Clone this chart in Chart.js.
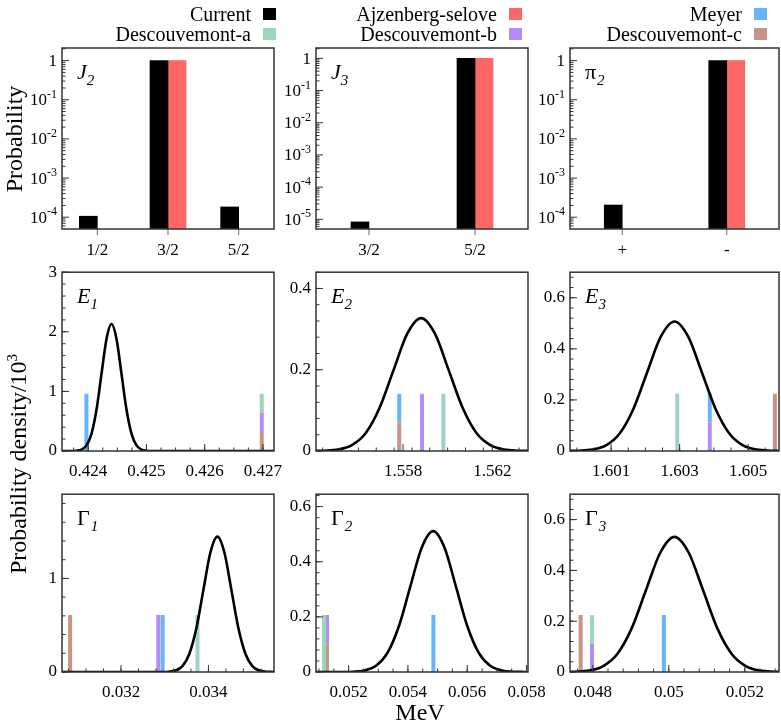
<!DOCTYPE html>
<html><head><meta charset="utf-8">
<script src="https://cdn.jsdelivr.net/npm/chart.js@4.4.1/dist/chart.umd.min.js"></script>
<style>
html,body{margin:0;padding:0;background:#fff;overflow:hidden;}
#wrap{position:relative;width:781px;height:724px;overflow:hidden;font-family:"Liberation Serif","Times New Roman",serif;color:#000;background:#fff;}
canvas{position:absolute;}
.leg{position:absolute;font-size:20px;white-space:nowrap;line-height:20px;text-align:right;}
.sw{position:absolute;width:13px;height:12px;}
.ttl{position:absolute;font-size:24px;white-space:nowrap;line-height:24px;}
.rot{transform:translate(-50%,-50%) rotate(-90deg);}
</style></head><body><div id="wrap"></div>
<script>
// ---------------- DATA ----------------
const legendRow1 = ['Current', 'Ajzenberg-selove', 'Meyer'];
const legendRow2 = ['Descouvemont-a', 'Descouvemont-b', 'Descouvemont-c'];

// top row: probabilities (log scale)
const j2Cats = ['1/2', '3/2', '5/2'];
const j2Current = [1.06e-4, 1, 1.83e-4];
const j2Ajz = [null, 1, null];
const j2YTicks = [1e-4, 1e-3, 1e-2, 1e-1, 1];
const j2YLabels = ['10^-4', '10^-3', '10^-2', '10^-1', '1'];

const j3Cats = ['3/2', '5/2'];
const j3Current = [8.3e-6, 1];
const j3Ajz = [null, 1];
const j3YTicks = [1e-5, 1e-4, 1e-3, 1e-2, 1e-1, 1];
const j3YLabels = ['10^-5', '10^-4', '10^-3', '10^-2', '10^-1', '1'];

const pi2Cats = ['+', '-'];
const pi2Current = [2.05e-4, 1];
const pi2Ajz = [null, 1];
const pi2YTicks = [1e-4, 1e-3, 1e-2, 1e-1, 1];
const pi2YLabels = ['10^-4', '10^-3', '10^-2', '10^-1', '1'];

// marker sources (order of values in the *Marks arrays)
const markSources = ['Meyer', 'Descouvemont-a', 'Descouvemont-b', 'Descouvemont-c'];

// E1
const e1X = [0.42355, 0.423712, 0.423798, 0.423884, 0.42397, 0.424056, 0.424142, 0.424228, 0.424314, 0.4244, 0.424486, 0.424572, 0.424658, 0.424744, 0.42483, 0.424916, 0.425002, 0.425088, 0.4256, 0.42719];
const e1Y = [0, 0.0007, 0.0047, 0.0236, 0.0935, 0.2882, 0.6916, 1.2918, 1.8797, 2.13, 1.8797, 1.2918, 0.6916, 0.2882, 0.0935, 0.0236, 0.0047, 0.0007, 0, 0];
const e1Marks = [0.42397, 0.42698, 0.42698, 0.42698];
const e1XTicks = [0.424, 0.425, 0.426, 0.427];
const e1XLabels = ['0.424', '0.425', '0.426', '0.427'];
const e1YTicks = [0, 1, 2, 3];
const e1YLabels = ['0', '1', '2', '3'];

// E2
const e2X = [1.5541, 1.55447, 1.55509, 1.55571, 1.55633, 1.55695, 1.55757, 1.55819, 1.55881, 1.55943, 1.56005, 1.56067, 1.56129, 1.56191, 1.56253, 1.56315, 1.5636];
const e2Y = [0.0002, 0.0007, 0.0036, 0.0144, 0.0442, 0.1062, 0.1983, 0.2886, 0.327, 0.2886, 0.1983, 0.1062, 0.0442, 0.0144, 0.0036, 0.0007, 0.0002];
const e2Marks = [1.55783, 1.55981, 1.55885, 1.55783];
const e2XTicks = [1.558, 1.562];
const e2XLabels = ['1.558', '1.562'];
const e2YTicks = [0, 0.2, 0.4];
const e2YLabels = ['0', '0.2', '0.4'];

// E3
const e3X = [1.5998, 1.60005, 1.60045, 1.60085, 1.60125, 1.60165, 1.60205, 1.60245, 1.60285, 1.60325, 1.60365, 1.60405, 1.60445, 1.60485, 1.60525, 1.60565, 1.6059];
const e3Y = [0.0004, 0.0011, 0.0056, 0.0223, 0.0686, 0.1646, 0.3075, 0.4474, 0.507, 0.4474, 0.3075, 0.1646, 0.0686, 0.0223, 0.0056, 0.0011, 0.0004];
const e3Marks = [1.60388, 1.60293, 1.60388, 1.60578];
const e3XTicks = [1.601, 1.603, 1.605];
const e3XLabels = ['1.601', '1.603', '1.605'];
const e3YTicks = [0, 0.2, 0.4, 0.6];
const e3YLabels = ['0', '0.2', '0.4', '0.6'];

// Gamma1
const g1X = [0.03065, 0.0325, 0.032925, 0.033085, 0.033245, 0.033405, 0.033565, 0.033725, 0.033885, 0.034045, 0.034205, 0.034365, 0.034525, 0.034685, 0.034845, 0.035005, 0.035165, 0.035325, 0.0355];
const g1Y = [0, 0, 0.0005, 0.0032, 0.0161, 0.0635, 0.1958, 0.4698, 0.8776, 1.277, 1.447, 1.277, 0.8776, 0.4698, 0.1958, 0.0635, 0.0161, 0.0032, 0.0003];
const g1Marks = [0.032952, 0.03375, 0.032852, 0.030836];
const g1XTicks = [0.032, 0.034];
const g1XLabels = ['0.032', '0.034'];
const g1YTicks = [0, 1];
const g1YLabels = ['0', '1'];

// Gamma2
const g2X = [0.0509, 0.05177, 0.052155, 0.05254, 0.052925, 0.05331, 0.053695, 0.05408, 0.054465, 0.05485, 0.055235, 0.05562, 0.056005, 0.05639, 0.056775, 0.05716, 0.057545, 0.05793, 0.05805];
const g2Y = [0, 0.0002, 0.0011, 0.0057, 0.0224, 0.0691, 0.1659, 0.3099, 0.451, 0.511, 0.451, 0.3099, 0.1659, 0.0691, 0.0224, 0.0057, 0.0011, 0.0002, 0.0001];
const g2Marks = [0.05486, 0.05117, 0.05127, 0.05127];
const g2XTicks = [0.052, 0.054, 0.056, 0.058];
const g2XLabels = ['0.052', '0.054', '0.056', '0.058'];
const g2YTicks = [0, 0.2, 0.4, 0.6];
const g2YLabels = ['0', '0.2', '0.4', '0.6'];

// Gamma3
const g3X = [0.0474, 0.047525, 0.0479, 0.048275, 0.04865, 0.049025, 0.0494, 0.049775, 0.05015, 0.050525, 0.0509, 0.051275, 0.05165, 0.052025, 0.0524, 0.052775, 0.0529];
const g3Y = [0.0006, 0.0012, 0.0059, 0.0234, 0.072, 0.1727, 0.3227, 0.4695, 0.532, 0.4695, 0.3227, 0.1727, 0.072, 0.0234, 0.0059, 0.0012, 0.0006];
const g3Marks = [0.04987, 0.04798, 0.04798, 0.04768];
const g3XTicks = [0.048, 0.05, 0.052];
const g3XLabels = ['0.048', '0.05', '0.052'];
const g3YTicks = [0, 0.2, 0.4, 0.6];
const g3YLabels = ['0', '0.2', '0.4', '0.6'];

// ---------------- STYLE / LAYOUT ----------------
const FF = '"Liberation Serif", "Times New Roman", serif';
const TICK_PX = 17;
const COL = {
  'Current': '#000000', 'Ajzenberg-selove': '#ff6666', 'Meyer': '#66b3ff',
  'Descouvemont-a': '#9bd6ba', 'Descouvemont-b': '#b38bfb', 'Descouvemont-c': '#c99389'
};
const stackOrder = ['Descouvemont-c', 'Descouvemont-b', 'Descouvemont-a', 'Meyer'];
const MARK_FRAC = 0.32;
const YW = 55, XH = 35, PT = 12, PR = 28;
const COLS = [[62, 274], [316, 528], [570, 779]];
const ROWS = [[48, 229], [269, 451], [491, 672]];
const wrap = document.getElementById('wrap');
Chart.defaults.font.family = FF;
Chart.defaults.color = '#000';

function rectOf(c, r) { return { L: COLS[c][0], R: COLS[c][1], T: ROWS[r][0], B: ROWS[r][1] }; }
function makeCanvas(rc) {
  const cv = document.createElement('canvas');
  const w = rc.R - rc.L + YW + PR, h = rc.B - rc.T + PT + XH;
  cv.width = w; cv.height = h;
  cv.style.left = (rc.L - YW) + 'px'; cv.style.top = (rc.T - PT) + 'px';
  cv.style.width = w + 'px'; cv.style.height = h + 'px';
  wrap.appendChild(cv);
  return cv;
}

function makeFrame(cfg) {
  return {
    id: 'frame',
    afterDatasetsDraw(chart) {
      const ctx = chart.ctx, a = chart.chartArea;
      const xs = chart.scales.x, ys = chart.scales.y;
      ctx.save();
      ctx.strokeStyle = '#333';
      const line = (x1, y1, x2, y2) => { ctx.beginPath(); ctx.moveTo(x1, y1); ctx.lineTo(x2, y2); ctx.stroke(); };
      ctx.lineWidth = 1;
      // y ticks
      if (cfg.logY) {
        cfg.yTicks.forEach(v => { const y = ys.getPixelForValue(v); line(a.left, y, a.left + 7, y); });
        const e0 = Math.floor(Math.log10(ys.min)), e1 = Math.ceil(Math.log10(ys.max));
        for (let e = e0; e <= e1; e++) for (let k = 2; k <= 9; k++) {
          const v = k * Math.pow(10, e);
          if (v > ys.min && v < ys.max) { const y = ys.getPixelForValue(v); line(a.left, y, a.left + 3.5, y); }
        }
      } else {
        const st = cfg.yMinor;
        for (let k = Math.ceil(ys.min / st - 1e-6); k * st <= ys.max + 1e-9; k++) {
          const y = ys.getPixelForValue(k * st); line(a.left, y, a.left + 3.5, y);
        }
        cfg.yTicks.forEach(v => { const y = ys.getPixelForValue(v); line(a.left, y, a.left + 7, y); });
      }
      // x ticks
      if (cfg.catX) {
        ctx.strokeStyle = '#666';
        for (let i = 0; i < chart.data.labels.length; i++) { const x = xs.getPixelForValue(i); line(x, a.bottom, x, a.bottom + 6); }
        ctx.strokeStyle = '#333';
      } else {
        const st = cfg.xMinor;
        for (let k = Math.ceil(xs.min / st - 1e-6); k * st <= xs.max + 1e-12; k++) {
          const x = xs.getPixelForValue(k * st); line(x, a.bottom, x, a.bottom - 3.5);
        }
        cfg.xTicks.forEach(v => { const x = xs.getPixelForValue(v); line(x, a.bottom, x, a.bottom - 7); });
      }
      // frame
      ctx.lineWidth = 1.5; ctx.strokeStyle = '#333';
      ctx.strokeRect(a.left, a.top, a.right - a.left, a.bottom - a.top);
      // log labels
      ctx.fillStyle = '#000';
      if (cfg.logY) {
        ctx.textBaseline = 'middle'; ctx.textAlign = 'left';
        cfg.yTicks.forEach((v, i) => {
          const y = ys.getPixelForValue(v);
          const parts = cfg.yLabels[i].split('^');
          ctx.font = TICK_PX + 'px ' + FF;
          const wb = ctx.measureText(parts[0]).width;
          let ws = 0;
          if (parts[1]) { ctx.font = '12px ' + FF; ws = ctx.measureText(parts[1]).width; }
          const x0 = a.left - 5 - wb - ws;
          ctx.font = TICK_PX + 'px ' + FF; ctx.fillText(parts[0], x0, y + 1);
          if (parts[1]) { ctx.font = '12px ' + FF; ctx.fillText(parts[1], x0 + wb, y - 5); }
        });
      }
      // panel label
      const lb = cfg.label;
      ctx.textBaseline = 'alphabetic'; ctx.textAlign = 'left';
      ctx.font = (lb.italic ? 'italic ' : '') + '22px ' + FF;
      const x0 = a.left + 15, y0 = a.top + 31;
      ctx.fillText(lb.main, x0, y0);
      const wm = ctx.measureText(lb.main).width;
      ctx.font = 'italic 15px ' + FF;
      ctx.fillText(lb.sub, x0 + wm + (lb.italic ? 0 : 1), y0 + 6);
      ctx.restore();
    }
  };
}

function commonOpts() {
  return {
    responsive: false, animation: false, devicePixelRatio: 1,
    layout: { padding: { left: 0, top: PT, right: PR, bottom: 0 } },
    plugins: { legend: { display: false }, tooltip: { enabled: false } }
  };
}

function barPanel(c, r, cats, cur, ajz, yMin, yMax, yTicks, yLabels, label) {
  const cv = makeCanvas(rectOf(c, r));
  const opts = commonOpts();
  opts.scales = {
    x: { type: 'category', offset: true, grid: { display: false, drawTicks: false }, border: { display: false },
         ticks: { font: { size: TICK_PX, family: FF }, color: '#000', padding: 11, maxRotation: 0 },
         afterFit: s => { s.height = XH; } },
    y: { type: 'logarithmic', min: yMin, max: yMax, grid: { display: false, drawTicks: false }, border: { display: false },
         ticks: { display: false }, afterFit: s => { s.width = YW; },
         afterBuildTicks: s => { s.ticks = yTicks.map(v => ({ value: v })); } }
  };
  new Chart(cv, {
    type: 'bar',
    data: { labels: cats, datasets: [
      { label: 'Current', data: cur, backgroundColor: COL['Current'], barThickness: 18 },
      { label: 'Ajzenberg-selove', data: ajz, backgroundColor: COL['Ajzenberg-selove'], barThickness: 18 }
    ] },
    options: opts,
    plugins: [makeFrame({ logY: true, catX: true, yTicks, yLabels, label })]
  });
}

function curvePanel(c, r, xr, yr, cx, cy, marks, xTicks, xLabels, xMinor, yTicks, yLabels, yMinor, label) {
  const cv = makeCanvas(rectOf(c, r));
  const datasets = [{
    data: cx.map((x, i) => ({ x, y: cy[i] })), borderColor: '#000', borderWidth: 2.6,
    pointRadius: 0, cubicInterpolationMode: 'monotone', fill: false
  }];
  // group coincident markers and stack them
  const groups = {};
  marks.forEach((x, i) => { const k = String(x); (groups[k] = groups[k] || { x, srcs: [] }).srcs.push(markSources[i]); });
  const H = yr[1] * MARK_FRAC;
  Object.values(groups).forEach(g => {
    const srcs = g.srcs.slice().sort((p, q) => stackOrder.indexOf(p) - stackOrder.indexOf(q));
    const h = H / srcs.length;
    srcs.forEach((s, k) => {
      datasets.push({ data: [{ x: g.x, y: k * h }, { x: g.x, y: (k + 1) * h }], borderColor: COL[s],
        borderWidth: 4, borderCapStyle: 'butt', pointRadius: 0, fill: false });
    });
  });
  const opts = commonOpts();
  opts.scales = {
    x: { type: 'linear', min: xr[0], max: xr[1], grid: { display: false, drawTicks: false }, border: { display: false },
         ticks: { font: { size: TICK_PX, family: FF }, color: '#000', padding: 10, maxRotation: 0, includeBounds: false,
                  callback: (v, i) => xLabels[i] },
         afterBuildTicks: s => { s.ticks = xTicks.map(v => ({ value: v })); },
         afterFit: s => { s.height = XH; } },
    y: { type: 'linear', min: yr[0], max: yr[1], grid: { display: false, drawTicks: false }, border: { display: false },
         ticks: { font: { size: TICK_PX, family: FF }, color: '#000', padding: 5, includeBounds: false,
                  callback: (v, i) => yLabels[i] },
         afterBuildTicks: s => { s.ticks = yTicks.map(v => ({ value: v })); },
         afterFit: s => { s.width = YW; } }
  };
  new Chart(cv, {
    type: 'line', data: { datasets }, options: opts,
    plugins: [makeFrame({ logY: false, catX: false, xTicks, xMinor, yTicks, yMinor, label })]
  });
}

// top row
barPanel(0, 0, j2Cats, j2Current, j2Ajz, 5e-5, 2.1, j2YTicks, j2YLabels, { main: 'J', sub: '2', italic: true });
barPanel(1, 0, j3Cats, j3Current, j3Ajz, 5e-6, 2.1, j3YTicks, j3YLabels, { main: 'J', sub: '3', italic: true });
barPanel(2, 0, pi2Cats, pi2Current, pi2Ajz, 5e-5, 2.1, pi2YTicks, pi2YLabels, { main: 'π', sub: '2', italic: false });
// middle row
curvePanel(0, 1, [0.42355, 0.42719], [0, 3], e1X, e1Y, e1Marks, e1XTicks, e1XLabels, 0.00025, e1YTicks, e1YLabels, 0.2, { main: 'E', sub: '1', italic: true });
curvePanel(1, 1, [1.5541, 1.5636], [0, 0.44], e2X, e2Y, e2Marks, e2XTicks, e2XLabels, 0.0008, e2YTicks, e2YLabels, 0.04, { main: 'E', sub: '2', italic: true });
curvePanel(2, 1, [1.5998, 1.6059], [0, 0.7], e3X, e3Y, e3Marks, e3XTicks, e3XLabels, 0.0005, e3YTicks, e3YLabels, 0.04, { main: 'E', sub: '3', italic: true });
// bottom row
curvePanel(0, 2, [0.03065, 0.0355], [0, 1.9], g1X, g1Y, g1Marks, g1XTicks, g1XLabels, 0.0004, g1YTicks, g1YLabels, 0.2, { main: 'Γ', sub: '1', italic: false });
curvePanel(1, 2, [0.0509, 0.05805], [0, 0.645], g2X, g2Y, g2Marks, g2XTicks, g2XLabels, 0.0005, g2YTicks, g2YLabels, 0.04, { main: 'Γ', sub: '2', italic: false });
curvePanel(2, 2, [0.0474, 0.0529], [0, 0.7], g3X, g3Y, g3Marks, g3XTicks, g3XLabels, 0.0004, g3YTicks, g3YLabels, 0.04, { main: 'Γ', sub: '3', italic: false });

// legend
const swRight = [276, 522, 767], rowMid = [14, 34];
[legendRow1, legendRow2].forEach((row, r) => {
  row.forEach((name, c) => {
    const sw = document.createElement('div'); sw.className = 'sw';
    sw.style.left = (swRight[c] - 13) + 'px'; sw.style.top = (rowMid[r] - 6) + 'px';
    sw.style.background = COL[name]; wrap.appendChild(sw);
    const t = document.createElement('div'); t.className = 'leg'; t.textContent = name;
    t.style.right = (781 - (swRight[c] - 13 - 12)) + 'px'; t.style.top = (rowMid[r] - 10) + 'px';
    wrap.appendChild(t);
  });
});
// axis titles
function title(html, x, y, rot) {
  const d = document.createElement('div'); d.className = 'ttl' + (rot ? ' rot' : ''); d.innerHTML = html;
  d.style.left = x + 'px'; d.style.top = y + 'px';
  if (!rot) d.style.transform = 'translate(-50%,-50%)';
  wrap.appendChild(d);
}
title('Probability', 14, 139, true);
title('Probability density/10<sup style="font-size:15px;vertical-align:9px;line-height:0">3</sup>', 18, 464, true);
title('MeV', 420, 712, false);
</script></body></html>
